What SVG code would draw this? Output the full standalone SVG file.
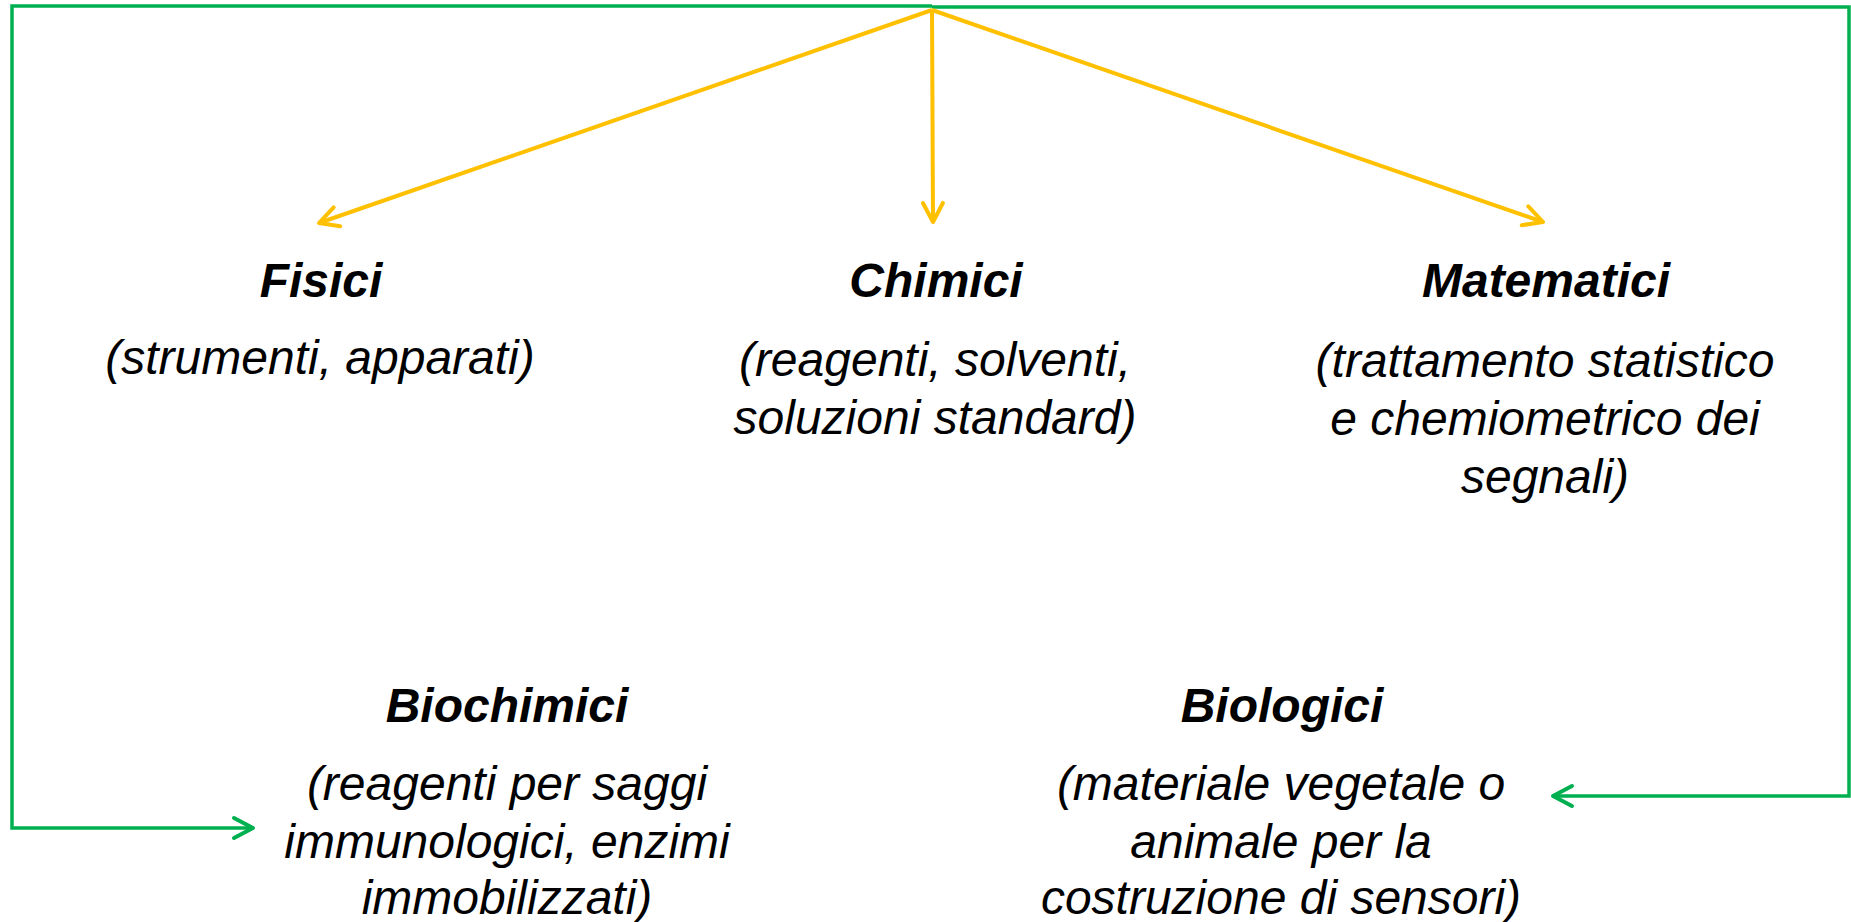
<svg xmlns="http://www.w3.org/2000/svg" width="1851" height="922" viewBox="0 0 1851 922">
<style>
.t{font-family:"Liberation Sans",Arial,sans-serif;font-size:48px;font-style:italic;text-anchor:middle;fill:#000}
.b{font-weight:bold}
.y{stroke:#FFC000;stroke-width:4;fill:none}
.g{stroke:#00B050;stroke-width:3.5;fill:none;stroke-linejoin:miter}
</style>
<defs>
<marker id="ay" markerUnits="userSpaceOnUse" markerWidth="30" markerHeight="30" viewBox="-25 -15 30 30" refX="0" refY="0" orient="auto">
<path d="M-19,-10 L0,0 L-19,10" fill="none" stroke="#FFC000" stroke-width="4" stroke-linecap="round" stroke-linejoin="round"/>
</marker>
<marker id="ag" markerUnits="userSpaceOnUse" markerWidth="30" markerHeight="30" viewBox="-25 -15 30 30" refX="0" refY="0" orient="auto">
<path d="M-19,-10 L0,0 L-19,10" fill="none" stroke="#00B050" stroke-width="4" stroke-linecap="round" stroke-linejoin="round"/>
</marker>
</defs>
<g id="connectors">
<polyline class="g" points="932,6 12,6 12,828 253,828" marker-end="url(#ag)"/>
<polyline class="g" points="932,7 1849,7 1849,796 1553,796" marker-end="url(#ag)"/>
<line class="y" x1="932" y1="10" x2="319" y2="223" marker-end="url(#ay)"/>
<line class="y" x1="932" y1="10" x2="933" y2="222" marker-end="url(#ay)"/>
<line class="y" x1="932" y1="10" x2="1543" y2="222" marker-end="url(#ay)"/>
</g>
<g id="fisici">
<text class="t b" x="321" y="297">Fisici</text>
<text class="t" x="320" y="374">(strumenti, apparati)</text>
</g>
<g id="chimici">
<text class="t b" x="936" y="297">Chimici</text>
<text class="t" x="935" y="376">(reagenti, solventi,</text>
<text class="t" x="935" y="434">soluzioni standard)</text>
</g>
<g id="matematici">
<text class="t b" x="1546" y="297">Matematici</text>
<text class="t" x="1545" y="377">(trattamento statistico</text>
<text class="t" x="1545" y="435">e chemiometrico dei</text>
<text class="t" x="1545" y="493">segnali)</text>
</g>
<g id="biochimici">
<text class="t b" x="507" y="722">Biochimici</text>
<text class="t" x="507" y="800">(reagenti per saggi</text>
<text class="t" x="507" y="858">immunologici, enzimi</text>
<text class="t" x="507" y="914">immobilizzati)</text>
</g>
<g id="biologici">
<text class="t b" x="1282" y="722">Biologici</text>
<text class="t" x="1281" y="800">(materiale vegetale o</text>
<text class="t" x="1281" y="858">animale per la</text>
<text class="t" x="1281" y="914">costruzione di sensori)</text>
</g>
</svg>
